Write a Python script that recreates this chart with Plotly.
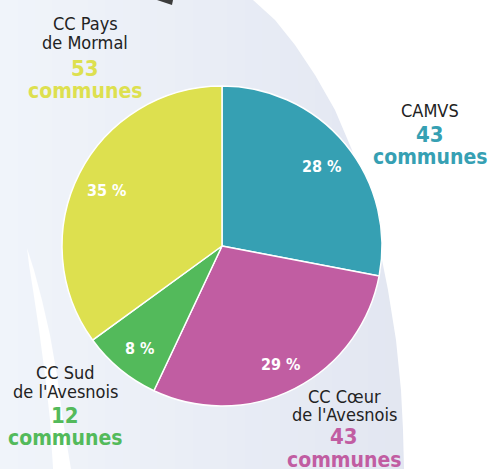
import math
import plotly.graph_objects as go

# ---- data ----
names = ["CAMVS", "CC Cœur de l'Avesnois", "CC Sud de l'Avesnois", "CC Pays de Mormal"]
name_lines = [["CAMVS"], ["CC Cœur", "de l'Avesnois"], ["CC Sud", "de l'Avesnois"], ["CC Pays", "de Mormal"]]
communes = [43, 43, 12, 53]
shares = [28, 29, 8, 35]
pct_labels = ["28 %", "29 %", "8 %", "35 %"]
colors = ["#36A0B3", "#C15DA2", "#53BA5B", "#DDE04F"]

# ---- layout constants (pixels) ----
W, H = 488, 469
CX, CY, R = 222, 246, 160
FONT = "DejaVu Sans Condensed, Liberation Sans Narrow, Arial Narrow, sans-serif"

def px(x):
    return x / W

def py(y):
    return 1 - y / H

# label blocks: x centre, y of each dark line, y of number, y of "communes"
label_pos = [
    (430, [110], 134, 157),
    (344, [396, 414], 436, 460),
    (65, [372, 391], 415, 438),
    (85, [23, 43], 68, 91),
]

fig = go.Figure()

fig.add_trace(go.Pie(
    labels=names,
    values=shares,
    sort=False,
    direction="clockwise",
    rotation=0,
    marker=dict(colors=colors, line=dict(color="white", width=1.5)),
    textinfo="none",
    hoverinfo="skip",
    showlegend=False,
    domain=dict(x=[px(CX - R), px(CX + R)], y=[py(CY + R), py(CY - R)]),
))

shapes = []
# background gradient strips
light = (240, 244, 250)
dark = (226, 230, 241)
n = 24
for i in range(n):
    x0 = i * 420 / n
    x1 = (i + 1) * 420 / n + 0.5
    t = i / (n - 1)
    c = tuple(round(light[k] + (dark[k] - light[k]) * t) for k in range(3))
    shapes.append(dict(type="rect", xref="paper", yref="paper", layer="below",
                       x0=px(x0), x1=px(x1), y0=0, y1=1,
                       fillcolor="rgb(%d,%d,%d)" % c, line=dict(width=0)))

def path(points):
    s = "M " + " L ".join("%.5f,%.5f" % (px(x), py(y)) for x, y in points) + " Z"
    return s

right_white = [(253, 0), (275, 20), (295, 45), (315, 75), (335, 110), (352, 150), (366, 195),
               (378, 240), (388, 290), (396, 340), (401, 390), (403, 430), (404, 469),
               (488, 469), (488, 0)]
shapes.append(dict(type="path", xref="paper", yref="paper", layer="below",
                   path=path(right_white), fillcolor="white", line=dict(width=0)))

left_band = [(27, 248), (34, 270), (42, 300), (50, 335), (57, 375), (63, 420), (71, 469),
             (53, 469), (50, 420), (45, 375), (39, 330), (33, 290), (29, 265)]
shapes.append(dict(type="path", xref="paper", yref="paper", layer="below",
                   path=path(left_band), fillcolor="rgba(255,255,255,0.95)", line=dict(width=0)))

arrow = [(157, 0), (173, 0), (172, 5)]
shapes.append(dict(type="path", xref="paper", yref="paper", layer="below",
                   path=path(arrow), fillcolor="#3C3C3C", line=dict(width=0)))

annotations = []
# percentage labels inside slices
cum = 0
for v, t in zip(shares, pct_labels):
    ang = math.radians((cum + v / 2) / 100 * 360)
    cum += v
    x = CX + 0.81 * R * math.sin(ang)
    y = CY - 0.81 * R * math.cos(ang) + 3
    annotations.append(dict(x=px(x), y=py(y), xref="paper", yref="paper", text="<b>%s</b>" % t,
                            showarrow=False, xanchor="center", yanchor="middle",
                            font=dict(family=FONT, size=16, color="white")))

# outer labels
for lines, cnt, col, (lx, ys, yn, yc) in zip(name_lines, communes, colors, label_pos):
    for ln, yy in zip(lines, ys):
        annotations.append(dict(x=px(lx), y=py(yy), xref="paper", yref="paper", text=ln,
                                showarrow=False, xanchor="center", yanchor="middle",
                                font=dict(family=FONT, size=18, color="#222222")))
    annotations.append(dict(x=px(lx), y=py(yn), xref="paper", yref="paper", text="<b>%d</b>" % cnt,
                            showarrow=False, xanchor="center", yanchor="middle",
                            font=dict(family=FONT, size=22, color=col)))
    annotations.append(dict(x=px(lx), y=py(yc), xref="paper", yref="paper", text="<b>communes</b>",
                            showarrow=False, xanchor="center", yanchor="middle",
                            font=dict(family=FONT, size=21, color=col)))

fig.update_layout(
    width=W, height=H,
    margin=dict(l=0, r=0, t=0, b=0),
    paper_bgcolor="white",
    plot_bgcolor="white",
    shapes=shapes,
    annotations=annotations,
)

fig.write_html("out.html", config={"displayModeBar": False},
               post_script="document.body.style.margin='0';document.body.style.overflow='hidden';")
